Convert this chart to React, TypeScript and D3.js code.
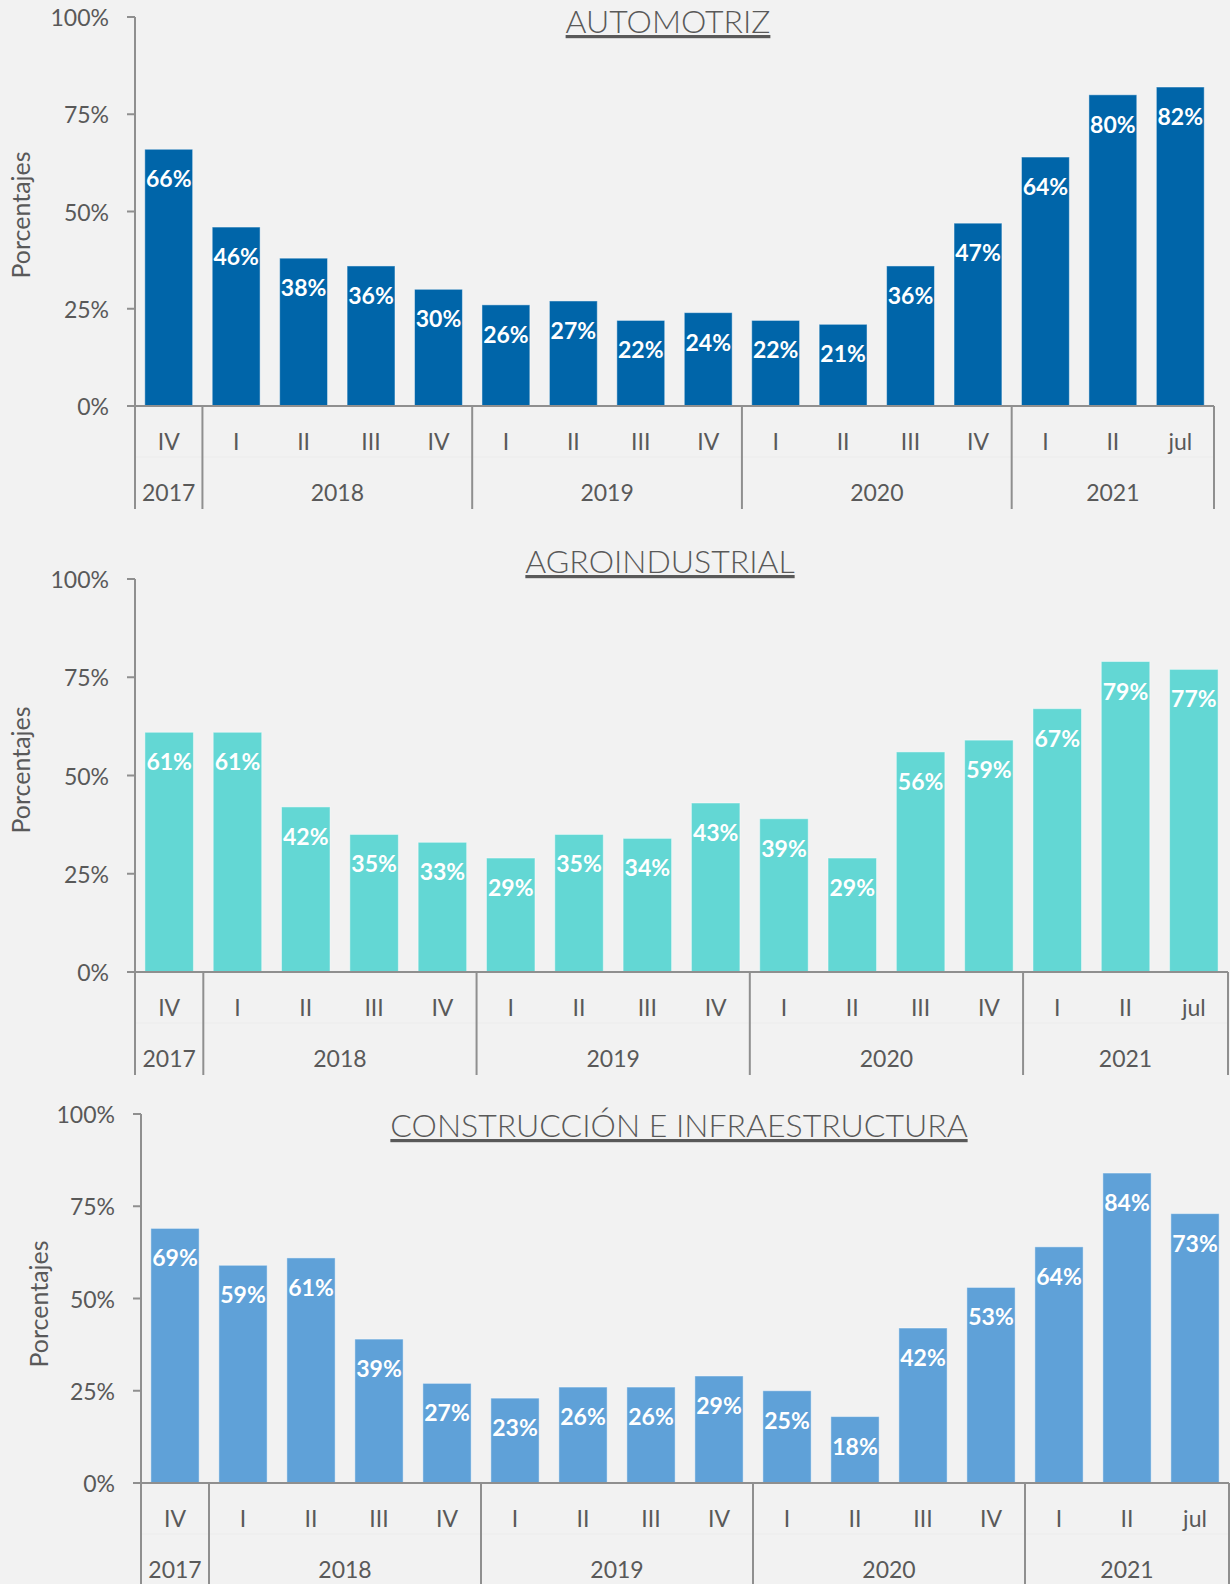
import React from "react";
import * as d3 from "d3";

const quarters = ["IV", "I", "II", "III", "IV", "I", "II", "III", "IV", "I", "II", "III", "IV", "I", "II", "jul"];
const yearGroups = [
  { year: "2017", count: 1 },
  { year: "2018", count: 4 },
  { year: "2019", count: 4 },
  { year: "2020", count: 4 },
  { year: "2021", count: 3 },
];
const yTicks = [0, 25, 50, 75, 100];

const automotriz = [66, 46, 38, 36, 30, 26, 27, 22, 24, 22, 21, 36, 47, 64, 80, 82];
const agroindustrial = [61, 61, 42, 35, 33, 29, 35, 34, 43, 39, 29, 56, 59, 67, 79, 77];
const construccion = [69, 59, 61, 39, 27, 23, 26, 26, 29, 25, 18, 42, 53, 64, 84, 73];

const panels = [
  { title: "AUTOMOTRIZ", values: automotriz, color: "#0065A9", x0: 135, x1: 1214, yTop: 17, yBase: 406, bottom: 509, titleX: 668, titleY: 33, axisLabelX: 30, axisLabelY: 215 },
  { title: "AGROINDUSTRIAL", values: agroindustrial, color: "#63D7D4", x0: 135, x1: 1228, yTop: 579, yBase: 972, bottom: 1075, titleX: 660, titleY: 573, axisLabelX: 30, axisLabelY: 770 },
  { title: "CONSTRUCCIÓN E INFRAESTRUCTURA", values: construccion, color: "#5FA1D8", x0: 141, x1: 1229, yTop: 1114, yBase: 1483, bottom: 1590, titleX: 679, titleY: 1137, axisLabelX: 48, axisLabelY: 1304 },
];

const FONT = "Lato, 'Open Sans', sans-serif";
const TEXT = "#595959";
const AXIS = "#8F8F8F";

function Panel({ p }: { p: (typeof panels)[number] }) {
  const idx = quarters.map((_, i) => String(i));
  const x = d3.scaleBand<string>().domain(idx).range([p.x0, p.x1]).paddingInner(0.29).paddingOuter(0.145);
  const y = d3.scaleLinear().domain([0, 100]).range([p.yBase, p.yTop]);
  const step = x.step();
  const dividers: number[] = [0];
  let acc = 0;
  yearGroups.forEach((g) => {
    acc += g.count;
    dividers.push(acc);
  });
  let start = 0;
  const yearPos = yearGroups.map((g) => {
    const c = p.x0 + (start + g.count / 2) * step;
    start += g.count;
    return { year: g.year, cx: c };
  });
  return (
    <g>
      {p.values.map((v, i) => (
        <rect
          key={"b" + i}
          x={x(String(i))}
          y={y(v)}
          width={x.bandwidth()}
          height={p.yBase - y(v)}
          fill={p.color}
          stroke="rgba(255,255,255,0.45)"
          strokeWidth={1}
        />
      ))}
      {p.values.map((v, i) => (
        <text
          key={"l" + i}
          x={(x(String(i)) as number) + x.bandwidth() / 2}
          y={y(v) + 38}
          textAnchor="middle"
          fill="#FFFFFF"
          fontFamily={FONT}
          fontWeight={700}
          fontSize={23}
        >
          {v + "%"}
        </text>
      ))}
      <line x1={p.x0} x2={p.x0} y1={p.yTop} y2={p.yBase} stroke={AXIS} strokeWidth={2} />
      {yTicks.map((t) => (
        <g key={"t" + t}>
          <line x1={p.x0 - 8} x2={p.x0} y1={y(t)} y2={y(t)} stroke={AXIS} strokeWidth={2} />
          <text x={p.x0 - 26} y={y(t) + 9} textAnchor="end" fill={TEXT} fontFamily={FONT} fontSize={23}>
            {t + "%"}
          </text>
        </g>
      ))}
      <line x1={p.x0 - 8} x2={p.x1} y1={p.yBase} y2={p.yBase} stroke={AXIS} strokeWidth={2} />
      <line x1={p.x0} x2={p.x1} y1={p.yBase + 51} y2={p.yBase + 51} stroke="#ECECEC" strokeWidth={1} />
      {dividers.map((d) => (
        <line key={"d" + d} x1={p.x0 + d * step} x2={p.x0 + d * step} y1={p.yBase} y2={p.bottom} stroke={AXIS} strokeWidth={2} />
      ))}
      {quarters.map((q, i) => (
        <text
          key={"q" + i}
          x={(x(String(i)) as number) + x.bandwidth() / 2}
          y={p.yBase + 44}
          textAnchor="middle"
          fill={TEXT}
          fontFamily={FONT}
          fontSize={23}
        >
          {q}
        </text>
      ))}
      {yearPos.map((yp) => (
        <text key={"y" + yp.year} x={yp.cx} y={p.yBase + 95} textAnchor="middle" fill={TEXT} fontFamily={FONT} fontSize={23}>
          {yp.year}
        </text>
      ))}
      <text x={p.titleX} y={p.titleY} textAnchor="middle" fill={TEXT} fontFamily={FONT} fontWeight={300} fontSize={32} textDecoration="underline">
        {p.title}
      </text>
      <text
        transform={`translate(${p.axisLabelX},${p.axisLabelY}) rotate(-90)`}
        textAnchor="middle"
        fill={TEXT}
        fontFamily={FONT}
        fontSize={25}
      >
        Porcentajes
      </text>
    </g>
  );
}

export default function App() {
  return (
    <svg
      width={1230}
      height={1584}
      viewBox="0 0 1230 1584"
      style={{ position: "absolute", left: 0, top: 0, background: "#F2F2F2", display: "block" }}
    >
      <rect x={0} y={0} width={1230} height={1584} fill="#F2F2F2" />
      {panels.map((p) => (
        <Panel key={p.title} p={p} />
      ))}
    </svg>
  );
}
